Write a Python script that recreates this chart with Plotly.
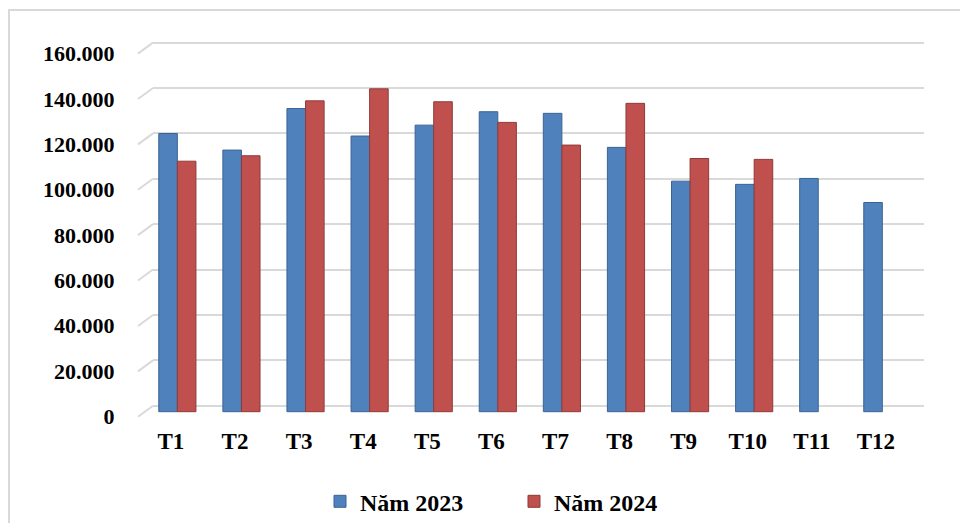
import plotly.graph_objects as go

months = ["T1", "T2", "T3", "T4", "T5", "T6", "T7", "T8", "T9", "T10", "T11", "T12"]
nam_2023 = [122600, 115300, 133600, 121500, 126300, 132200, 131500, 116500, 101600, 100200, 102800, 92200]
nam_2024 = [110400, 112800, 137000, 142300, 136600, 127500, 117500, 135900, 111600, 111200, None, None]
tick_vals = [0, 20000, 40000, 60000, 80000, 100000, 120000, 140000, 160000]

BLUE = "#4F81BD"
RED = "#C0504D"
GRID = "#D9D9D9"
FONT = "Liberation Serif"

W, H = 960, 523
L, R, T, B = 153, 36, 30, 105
plot_h = H - T - B
plot_w = W - L - R
px_per_unit = 2.269 / 1000  # pixels per value unit


def yrange(zero_px):
    lo = -(T + plot_h - zero_px) / px_per_unit
    hi = lo + plot_h / px_per_unit
    return [lo, hi]


fig = go.Figure()
fig.add_trace(go.Bar(
    x=months, y=nam_2023, name="Năm 2023",
    marker=dict(color=BLUE, line=dict(color="#3A6494", width=1)),
    offset=-0.19, width=0.29,
))
fig.add_trace(go.Bar(
    x=months, y=nam_2024, name="Năm 2024",
    marker=dict(color=RED, line=dict(color="#8E3B39", width=1)),
    offset=0.10, width=0.29,
))
# invisible carrier traces so the overlay axes are drawn
fig.add_trace(go.Scatter(
    x=[months[0]], y=[None], yaxis="y3", showlegend=False,
    hoverinfo="skip", mode="markers", marker=dict(opacity=0),
))
fig.add_trace(go.Scatter(
    x=[months[0]], y=[None], yaxis="y2", showlegend=False,
    hoverinfo="skip", mode="markers", marker=dict(opacity=0),
))

shapes = []
for v in tick_vals:
    shapes.append(dict(
        type="line", xref="paper", yref="y2", ysizemode="pixel", yanchor=v,
        x0=(138 - L) / plot_w, x1=0, y0=-11, y1=0,
        line=dict(color=GRID, width=2), layer="below",
    ))
shapes.append(dict(
    type="rect", xref="paper", yref="paper",
    x0=(9 - L) / plot_w, x1=(975 - L) / plot_w,
    y0=(T + plot_h - 540) / plot_h, y1=(T + plot_h - 10) / plot_h,
    line=dict(color=GRID, width=2), fillcolor="rgba(0,0,0,0)", layer="below",
))

fig.update_layout(
    width=W, height=H,
    margin=dict(l=L, r=R, t=T, b=B, autoexpand=False),
    paper_bgcolor="white", plot_bgcolor="white",
    separators=",.",
    barmode="overlay",
    font=dict(family=FONT, size=22, color="black", weight="bold"),
    xaxis=dict(
        type="category", range=[-0.28, 11.75],
        showgrid=False, zeroline=False, showline=False,
        tickfont=dict(family=FONT, size=23, color="black", weight="bold"),
        ticks="outside", ticklen=0, ticklabelstandoff=2,
    ),
    yaxis=dict(
        range=yrange(411.7), showgrid=False, zeroline=False,
        showticklabels=False, showline=False,
    ),
    yaxis2=dict(
        overlaying="y", range=yrange(405.7), tickvals=tick_vals,
        showgrid=True, gridcolor=GRID, gridwidth=2, zeroline=False,
        showticklabels=False, showline=False,
    ),
    yaxis3=dict(
        overlaying="y", range=yrange(416.5), tickvals=tick_vals,
        tickformat=",.0f", showgrid=False, zeroline=False, showline=False,
        tickfont=dict(family=FONT, size=22, color="black", weight="bold"),
        ticks="outside", ticklen=0, ticklabelstandoff=33, side="left",
    ),
    shapes=shapes,
    legend=dict(
        orientation="h", xref="container", yref="container",
        x=514 / W, y=1 - 501.7 / H, xanchor="center", yanchor="middle",
        font=dict(family=FONT, size=24, color="black", weight="bold"),
        itemclick=False, entrywidth=149,
    ),
    showlegend=True,
)

fig.write_html("out.html", config={"displayModeBar": False},
               post_script="document.body.style.margin='0';")
